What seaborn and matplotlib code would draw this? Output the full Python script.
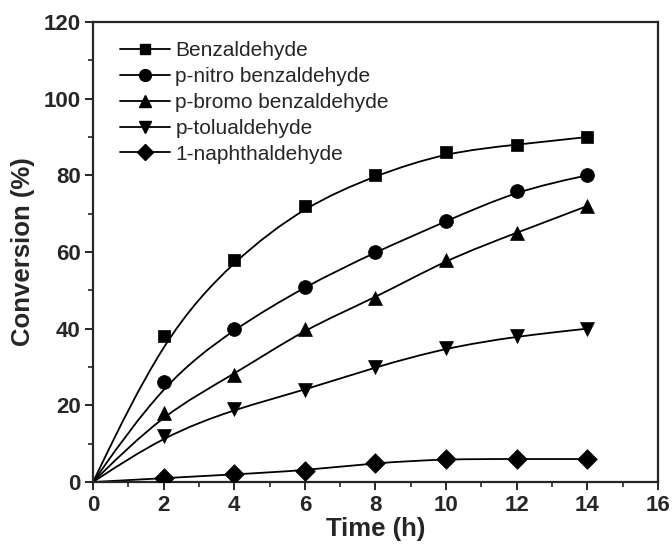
import numpy as np
import pandas as pd
import seaborn as sns
import matplotlib
matplotlib.use("Agg")
import matplotlib.pyplot as plt
from matplotlib.path import Path
from matplotlib.patches import PathPatch
from matplotlib.lines import Line2D
from matplotlib.ticker import MultipleLocator, AutoMinorLocator

time_h = [0, 2, 4, 6, 8, 10, 12, 14]
benzaldehyde = [0, 38, 58, 72, 80, 86, 88, 90]
p_nitro = [0, 26, 40, 51, 60, 68, 76, 80]
p_bromo = [0, 18, 28, 40, 48, 58, 65, 72]
p_tolu = [0, 12, 19, 24, 30, 35, 38, 40]
naphth = [0, 1, 2, 3, 5, 6, 6, 6]

series_names = ["Benzaldehyde", "p-nitro benzaldehyde", "p-bromo benzaldehyde",
                "p-tolualdehyde", "1-naphthaldehyde"]
series_values = [benzaldehyde, p_nitro, p_bromo, p_tolu, naphth]
markers = ["s", "o", "^", "v", "D"]
marker_sizes = [9, 10, 10, 10, 10]

rows = []
for name, vals in zip(series_names, series_values):
    for t, v in zip(time_h, vals):
        rows.append({"Time": t, "Conversion": v, "Series": name})
df = pd.DataFrame(rows)

sns.set_style("ticks")
plt.rcParams["font.family"] = ["Liberation Sans", "DejaVu Sans"]

fig = plt.figure(figsize=(6.72, 5.47), dpi=100)
ax = fig.add_axes([0.1384, 0.1188, 0.979 - 0.1384, 0.9598 - 0.1188])


def bspline_path(x, y):
    # uniform cubic B-spline with the data as control points (ends repeated),
    # expressed as cubic Bezier segments for drawing
    P = np.column_stack([np.asarray(x, float), np.asarray(y, float)])
    Q = np.vstack([P[:1], P[:1], P, P[-1:], P[-1:]])
    verts, codes = [], []
    for i in range(len(Q) - 3):
        q0, q1, q2, q3 = Q[i], Q[i + 1], Q[i + 2], Q[i + 3]
        b0 = (q0 + 4 * q1 + q2) / 6.0
        b1 = (2 * q1 + q2) / 3.0
        b2 = (q1 + 2 * q2) / 3.0
        b3 = (q1 + 4 * q2 + q3) / 6.0
        if not verts:
            verts.append(b0)
            codes.append(Path.MOVETO)
        verts += [b1, b2, b3]
        codes += [Path.CURVE4] * 3
    return Path(verts, codes)


for name, mk, ms in zip(series_names, markers, marker_sizes):
    sub = df[df["Series"] == name]
    patch = PathPatch(bspline_path(sub["Time"], sub["Conversion"]),
                      facecolor="none", edgecolor="black", lw=1.3, zorder=2)
    ax.add_patch(patch)
    pts = sub[sub["Time"] > 0]
    sns.scatterplot(data=pts, x="Time", y="Conversion", marker=mk, s=ms ** 2,
                    color="black", edgecolor="black", linewidth=0.5, ax=ax,
                    zorder=3, legend=False)

ax.set_xlim(0, 16)
ax.set_ylim(0, 120)
ax.xaxis.set_major_locator(MultipleLocator(2))
ax.xaxis.set_minor_locator(AutoMinorLocator(2))
ax.yaxis.set_major_locator(MultipleLocator(20))
ax.yaxis.set_minor_locator(AutoMinorLocator(2))

for sp in ax.spines.values():
    sp.set_linewidth(1.6)
    sp.set_visible(True)
ax.tick_params(which="major", direction="out", length=6, width=1.4,
               labelsize=16, pad=3, top=False, right=False)
ax.tick_params(which="minor", direction="out", length=3.5, width=1.2,
               top=False, right=False)
for lab in ax.get_xticklabels() + ax.get_yticklabels():
    lab.set_fontweight("bold")

ax.set_xlabel("Time (h)", fontsize=18.5, fontweight="bold", labelpad=1)
ax.set_ylabel("Conversion (%)", fontsize=18.5, fontweight="bold", labelpad=6)

handles = [Line2D([], [], color="black", lw=1.3, marker=mk, markersize=ms * 0.85)
           for mk, ms in zip(markers, marker_sizes)]
ax.legend(handles, series_names, loc="upper left", frameon=False, fontsize=15,
          handlelength=2.4, handletextpad=0.25, labelspacing=0.33,
          borderaxespad=0.3, bbox_to_anchor=(0.022, 0.99))

fig.savefig("out.png", dpi=100)
